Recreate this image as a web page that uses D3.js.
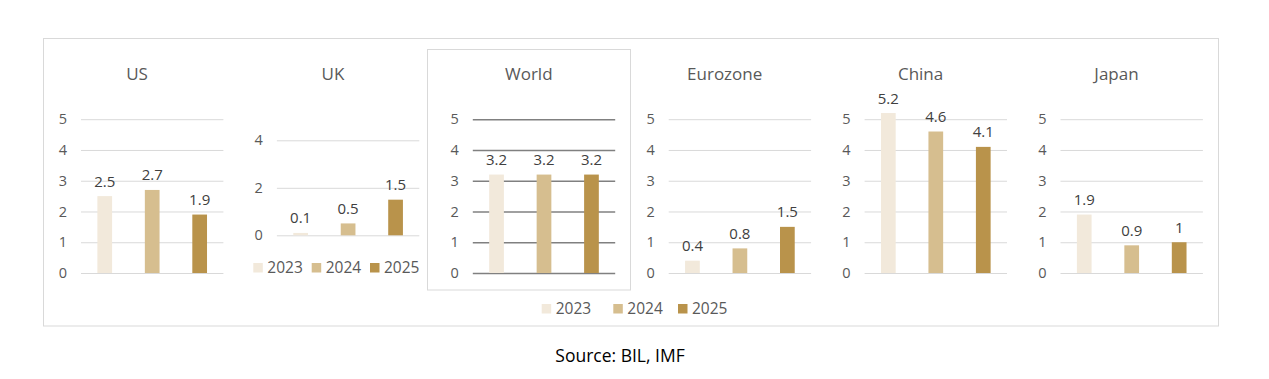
<!DOCTYPE html>
<html><head><meta charset="utf-8">
<script src="https://cdn.jsdelivr.net/npm/d3@7"></script>
<style>
html,body{margin:0;padding:0;background:#fff;}
svg{display:block;font-family:"Open Sans",sans-serif;}
</style></head>
<body><svg id="c" width="1269" height="379"></svg>
<script>
const regions = ["US","UK","World","Eurozone","China","Japan"];
const years = ["2023","2024","2025"];
const values = {
  US:[2.5,2.7,1.9],
  UK:[0.1,0.5,1.5],
  World:[3.2,3.2,3.2],
  Eurozone:[0.4,0.8,1.5],
  China:[5.2,4.6,4.1],
  Japan:[1.9,0.9,1]
};
const ticksDefault = [0,1,2,3,4,5];
const ticksUK = [0,2,4];
const colors = ["#F2E9DB","#D6BE8F","#B9934B"];
const source = "Source: BIL, IMF";

const svg = d3.select("#c");
svg.append("rect").attr("x",43.5).attr("y",38.5).attr("width",1175).attr("height",287.5)
  .attr("fill","none").attr("stroke","#d9d9d9").attr("stroke-width",1);
svg.append("rect").attr("x",427.5).attr("y",49.5).attr("width",203).attr("height",240.5)
  .attr("fill","none").attr("stroke","#d9d9d9").attr("stroke-width",1);

const panelStep = 195.9;
regions.forEach((r,i)=>{
  const isUK = r==="UK", isWorld = r==="World";
  const x0 = 81 + i*panelStep, x1 = x0 + 142.4;
  const titleX = 137 + i*panelStep;
  const y = isUK ? d3.scaleLinear().domain([0,4]).range([235.3,140.3])
                 : d3.scaleLinear().domain([0,5]).range([273,119.2]);
  const ticks = isUK ? ticksUK : ticksDefault;
  const x = d3.scaleBand().domain(years).range([x0,x1]).padding(0);
  const g = svg.append("g");
  g.append("text").attr("x",titleX).attr("y",79.5).attr("text-anchor","middle")
    .attr("font-size",17).attr("fill","#595959").text(r);
  const ax = d3.axisLeft(y).tickValues(ticks).tickSize(-(x1-x0)).tickPadding(14).tickFormat(d3.format("d"));
  const ag = g.append("g").attr("transform",`translate(${x0},0)`).call(ax);
  ag.select(".domain").remove();
  ag.selectAll(".tick line").attr("stroke", isWorld ? "#808080" : "#d9d9d9").attr("stroke-width", isWorld?1.5:1);
  ag.selectAll(".tick text").attr("fill","#595959").attr("font-size",14.5).attr("font-family","Open Sans, sans-serif");
  const bw = x.bandwidth()*0.31;
  values[r].forEach((v,j)=>{
    const cx = x(years[j]) + x.bandwidth()/2;
    g.append("rect").attr("x",cx-bw/2).attr("y",y(v)).attr("width",bw).attr("height",y(0)-y(v))
      .attr("fill",colors[j]);
    g.append("text").attr("x",cx).attr("y",y(v)-9.5).attr("text-anchor","middle")
      .attr("font-size",15).attr("fill","#404040").text(String(v));
  });
});

function legend(xs, yc, size){
  years.forEach((yr,j)=>{
    svg.append("rect").attr("x",xs[j]).attr("y",yc-4.5).attr("width",9.5).attr("height",9.5).attr("fill",colors[j]);
    svg.append("text").attr("x",xs[j]+14).attr("y",yc+5.5).attr("font-size",size).attr("fill","#595959").text(yr);
  });
}
legend([253.3,311.7,370],267.5,15.5);
legend([541.7,613.3,678],308.5,15.5);

svg.append("text").attr("x",620).attr("y",361.5).attr("text-anchor","middle")
  .attr("font-size",17.5).attr("fill","#000").text(source);
</script>
</body></html>
